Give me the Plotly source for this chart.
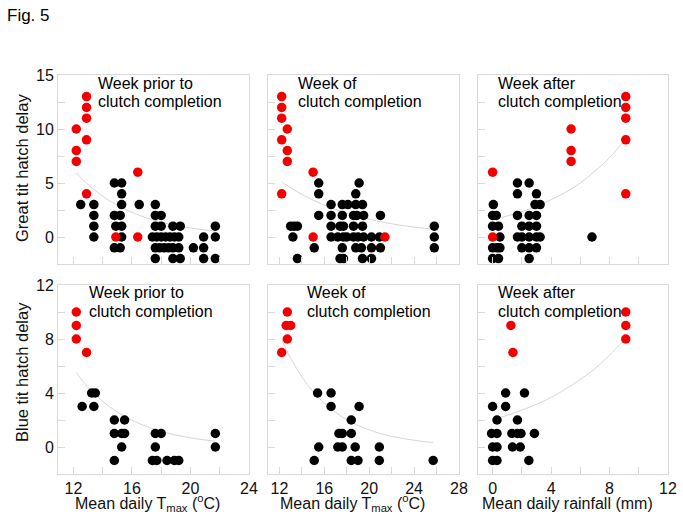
import plotly.graph_objects as go

# ---------------- data ----------------
# Great tit, week prior (Tmax)
gt_prior_red_x = [12.9, 12.9, 12.9, 12.2, 12.9, 12.2, 12.2, 16.4, 12.9, 14.9, 16.4]
gt_prior_red_y = [13, 12, 11, 10, 9, 8, 7, 6, 4, 0, 0]
gt_prior_blk_x = [14.8, 15.3,
                  15.3,
                  12.5, 13.4, 15.3, 16.5, 17.6,
                  13.4, 14.8, 15.2, 17.6, 18.0,
                  13.4, 14.9, 15.3, 17.6, 18.0, 18.8, 19.3, 21.7,
                  13.4, 15.3, 17.4, 17.7, 18.0, 18.3, 18.6, 18.9, 19.2, 20.9, 21.7,
                  14.8, 15.2, 17.6, 17.9, 18.2, 18.5, 18.8, 19.2, 20.2, 20.9,
                  17.6, 18.8, 19.3, 20.9, 21.7]
gt_prior_blk_y = [5, 5,
                  4,
                  3, 3, 3, 3, 3,
                  2, 2, 2, 2, 2,
                  1, 1, 1, 1, 1, 1, 1, 1,
                  0, 0, 0, 0, 0, 0, 0, 0, 0, 0, 0,
                  -1, -1, -1, -1, -1, -1, -1, -1, -1, -1,
                  -2, -2, -2, -2, -2]
gt_prior_fit_x = [12.2, 13, 14, 15, 16, 17, 18, 19, 20, 21, 21.7]
gt_prior_fit_y = [5.94, 4.86, 3.78, 2.94, 2.28, 1.77, 1.38, 1.07, 0.83, 0.65, 0.54]

# Great tit, week of (Tmax)
gt_of_red_x = [12.2, 12.2, 12.2, 12.7, 12.2, 12.7, 12.7, 15.0, 12.2, 15.0, 21.4]
gt_of_red_y = [13, 12, 11, 10, 9, 8, 7, 6, 4, 0, 0]
gt_of_blk_x = [15.5, 19.1,
               15.5, 18.8,
               16.6, 17.6, 18.1, 18.8, 19.4,
               15.5, 16.6, 17.6, 18.6, 18.9, 19.5, 21.0,
               13.0, 13.3, 13.6, 16.6, 17.4, 17.7, 18.6, 19.4, 25.8,
               13.2, 16.6, 17.2, 17.7, 18.0, 18.6, 19.0, 19.5, 20.2, 20.9, 25.8,
               15.1, 17.6, 18.8, 19.3, 20.2, 21.0, 25.8,
               13.6, 17.4, 17.7, 19.4, 20.2]
gt_of_blk_y = [5, 5,
               4, 4,
               3, 3, 3, 3, 3,
               2, 2, 2, 2, 2, 2, 2,
               1, 1, 1, 1, 1, 1, 1, 1, 1,
               0, 0, 0, 0, 0, 0, 0, 0, 0, 0, 0,
               -1, -1, -1, -1, -1, -1, -1,
               -2, -2, -2, -2, -2]
gt_of_fit_x = [12.2, 14, 16, 18, 20, 22, 24, 25.8]
gt_of_fit_y = [5.1, 3.95, 2.95, 2.2, 1.65, 1.22, 0.92, 0.71]

# Great tit, week after (rainfall)
gt_after_red_x = [0, 0, 5.37, 5.37, 5.37, 9.11, 9.11, 9.11, 9.11, 9.11]
gt_after_red_y = [6, 0, 10, 8, 7, 13, 12, 11, 9, 4]
gt_after_blk_x = [1.7, 2.5,
                  1.7, 3.0,
                  0.05, 2.9, 3.25,
                  0.0, 0.25, 1.7, 2.5, 3.0,
                  0.0, 0.4, 2.0, 2.5, 3.0,
                  0.5, 1.7, 2.0, 2.5, 3.0, 3.25, 6.8,
                  0.0, 0.3, 0.5, 2.0, 2.5, 3.0,
                  0.0, 0.4, 2.5]
gt_after_blk_y = [5, 5,
                  4, 4,
                  3, 3, 3,
                  2, 2, 2, 2, 2,
                  1, 1, 1, 1, 1,
                  0, 0, 0, 0, 0, 0, 0,
                  -1, -1, -1, -1, -1, -1,
                  -2, -2, -2]
gt_after_fit_x = [0, 1, 2, 3, 4, 5, 6, 7, 8, 9.11]
gt_after_fit_y = [1.6, 1.95, 2.35, 2.85, 3.45, 4.15, 5.0, 6.1, 7.35, 9.1]

# Blue tit, week prior (Tmax)
bt_prior_red_x = [12.2, 12.2, 12.2, 12.9]
bt_prior_red_y = [10, 9, 8, 7]
bt_prior_blk_x = [13.25, 13.5,
                  12.6, 13.4,
                  14.8, 15.5,
                  14.8, 15.3, 15.5, 17.6, 18.0, 21.7,
                  15.3, 17.6, 21.7,
                  14.8, 17.4, 17.7, 18.4, 18.9, 19.2]
bt_prior_blk_y = [4, 4,
                  3, 3,
                  2, 2,
                  1, 1, 1, 1, 1, 1,
                  0, 0, 0,
                  -1, -1, -1, -1, -1, -1]
bt_prior_fit_x = [12.2, 13, 14, 15, 16, 17, 18, 19, 20, 21, 21.7]
bt_prior_fit_y = [5.5, 4.43, 3.39, 2.59, 1.98, 1.52, 1.16, 0.89, 0.68, 0.52, 0.43]

# Blue tit, week of (Tmax)
bt_of_red_x = [12.7, 12.6, 13.0, 12.7, 12.2]
bt_of_red_y = [10, 9, 9, 8, 7]
bt_of_blk_x = [15.4, 16.6,
               16.6, 19.1,
               18.4,
               17.3, 17.6, 18.4,
               15.5, 17.2, 17.6, 18.75, 20.9,
               15.1, 18.4, 19.0, 20.9, 25.7]
bt_of_blk_y = [4, 4,
               3, 3,
               2,
               1, 1, 1,
               0, 0, 0, 0, 0,
               -1, -1, -1, -1, -1]
bt_of_fit_x = [12.2, 13, 14, 15, 16, 17, 18, 19, 20, 21, 22, 23, 24, 25, 25.7]
bt_of_fit_y = [7.95, 6.57, 5.2, 4.1, 3.25, 2.57, 2.03, 1.6, 1.27, 1.0, 0.79, 0.63, 0.5, 0.39, 0.34]

# Blue tit, week after (rainfall)
bt_after_red_x = [1.25, 1.39, 9.11, 9.11, 9.11]
bt_after_red_y = [9, 7, 10, 9, 8]
bt_after_blk_x = [0.89, 2.18,
                  0.0, 0.89,
                  0.3, 1.7,
                  -0.07, 0.3, 1.32, 1.7, 1.94, 2.86,
                  0.0, 0.3, 1.36, 1.89,
                  0.0, 0.3, 2.48]
bt_after_blk_y = [4, 4,
                  3, 3,
                  2, 2,
                  1, 1, 1, 1, 1, 1,
                  0, 0, 0, 0,
                  -1, -1, -1]
bt_after_fit_x = [0.07, 1, 2, 3, 4, 5, 6, 7, 8, 9.11]
bt_after_fit_y = [2.04, 2.35, 2.73, 3.16, 3.67, 4.3, 5.0, 5.8, 6.8, 8.07]

panel_titles = [["Week prior to", "clutch completion"],
                ["Week of", "clutch completion"],
                ["Week after", "clutch completion"]]
x_titles = ["Mean daily T<sub>max</sub> (<sup>o</sup>C)",
            "Mean daily T<sub>max</sub> (<sup>o</sup>C)",
            "Mean daily rainfall (mm)"]
y_titles = ["Great tit hatch delay", "Blue tit hatch delay"]
fig_label = "Fig. 5"

# ---------------- figure ----------------
W, H = 683, 521
ML, MR, MT, MB = 58, 15, 75, 47
PW, PH = W - ML - MR, H - MT - MB

def px2paper_x(px):
    return (px - ML) / PW

def px2paper_y(py):
    return (H - MB - py) / PH

RED = "#f20000"
BLACK = "#000000"
FITC = "#d6d6d6"
FONT = "Arial, Liberation Sans, sans-serif"

panels = [
    (gt_prior_red_x, gt_prior_red_y, gt_prior_blk_x, gt_prior_blk_y, gt_prior_fit_x, gt_prior_fit_y),
    (gt_of_red_x, gt_of_red_y, gt_of_blk_x, gt_of_blk_y, gt_of_fit_x, gt_of_fit_y),
    (gt_after_red_x, gt_after_red_y, gt_after_blk_x, gt_after_blk_y, gt_after_fit_x, gt_after_fit_y),
    (bt_prior_red_x, bt_prior_red_y, bt_prior_blk_x, bt_prior_blk_y, bt_prior_fit_x, bt_prior_fit_y),
    (bt_of_red_x, bt_of_red_y, bt_of_blk_x, bt_of_blk_y, bt_of_fit_x, bt_of_fit_y),
    (bt_after_red_x, bt_after_red_y, bt_after_blk_x, bt_after_blk_y, bt_after_fit_x, bt_after_fit_y),
]

fig = go.Figure()
for i, (rx, ry, bx, by, fx, fy) in enumerate(panels):
    xa = "x" if i == 0 else f"x{i+1}"
    ya = "y" if i == 0 else f"y{i+1}"
    fig.add_trace(go.Scatter(x=fx, y=fy, mode="lines", line=dict(color=FITC, width=1, shape="spline"),
                             xaxis=xa, yaxis=ya, showlegend=False, hoverinfo="skip"))
    fig.add_trace(go.Scatter(x=bx, y=by, mode="markers", marker=dict(color=BLACK, size=9.5),
                             xaxis=xa, yaxis=ya, showlegend=False))
    fig.add_trace(go.Scatter(x=rx, y=ry, mode="markers", marker=dict(color=RED, size=9.5),
                             xaxis=xa, yaxis=ya, showlegend=False))

col_px = [(58, 249), (268, 459), (478, 668)]
row_px = [(75, 264), (285, 474)]
x_ranges = [[10.95, 24], [10.98, 28], [-1.0, 12]]
y_ranges = [[-2.5, 15], [-2, 12]]
y_dtick = [5, 4]
y_minor = [2.5, 2]

axis_common = dict(showline=True, mirror=True, linecolor="#d9d9d9", linewidth=1,
                   ticks="inside", ticklen=7, tickcolor="#d9d9d9", tickwidth=1,
                   showgrid=False, zeroline=False, automargin=False,
                   tickfont=dict(family=FONT, size=16, color="#111111"))

layout = {}
for i in range(6):
    r, c = divmod(i, 3)
    xk = "xaxis" if i == 0 else f"xaxis{i+1}"
    yk = "yaxis" if i == 0 else f"yaxis{i+1}"
    ya = "y" if i == 0 else f"y{i+1}"
    xa = "x" if i == 0 else f"x{i+1}"
    x0, x1 = col_px[c]
    y0, y1 = row_px[r]
    layout[xk] = dict(axis_common, domain=[px2paper_x(x0), px2paper_x(x1)], range=x_ranges[c],
                      anchor=ya, tick0=0, dtick=4, showticklabels=(r == 1),
                      minor=dict(dtick=2, ticks="inside", ticklen=7, tickcolor="#d9d9d9"))
    layout[yk] = dict(axis_common, domain=[px2paper_y(y1), px2paper_y(y0)], range=y_ranges[r],
                      anchor=xa, tick0=0, dtick=y_dtick[r], showticklabels=(c == 0),
                      minor=dict(dtick=y_minor[r], ticks="inside", ticklen=7, tickcolor="#d9d9d9"))

annotations = []
# panel captions
cap_pos = [[(97.7, 83), (298.3, 83), (498.3, 83)],
           [(89, 292.3), (307.3, 292.3), (498.3, 292.3)]]
for r in range(2):
    for c in range(3):
        lx, ly = cap_pos[r][c]
        for k, line in enumerate(panel_titles[c]):
            annotations.append(dict(text=line, xref="paper", yref="paper",
                                    x=px2paper_x(lx - 2), y=px2paper_y(ly + k * 18.7),
                                    xanchor="left", yanchor="middle", showarrow=False,
                                    font=dict(family=FONT, size=16, color="#000000")))
# x titles
xt_center_px = [147, 352, 567]
for c in range(3):
    annotations.append(dict(text=x_titles[c], xref="paper", yref="paper",
                            x=px2paper_x(xt_center_px[c]), y=px2paper_y(503),
                            xanchor="center", yanchor="middle", showarrow=False,
                            font=dict(family=FONT, size=16, color="#111111")))
# y titles
for r, yc in enumerate([168, 372]):
    annotations.append(dict(text=y_titles[r], xref="paper", yref="paper",
                            x=px2paper_x(22), y=px2paper_y(yc), textangle=-90,
                            xanchor="center", yanchor="middle", showarrow=False,
                            font=dict(family=FONT, size=16.5, color="#111111")))
# figure label
annotations.append(dict(text=fig_label, xref="paper", yref="paper",
                        x=px2paper_x(5), y=px2paper_y(15), xanchor="left", yanchor="middle",
                        showarrow=False, font=dict(family=FONT, size=17, color="#000000")))

fig.update_layout(width=W, height=H,
                  margin=dict(l=ML, r=MR, t=MT, b=MB, autoexpand=False),
                  paper_bgcolor="white", plot_bgcolor="white",
                  annotations=annotations, **layout)

fig.write_html("out.html", config={"displayModeBar": False},
               post_script="document.body.style.margin='0';document.body.style.padding='0';")
